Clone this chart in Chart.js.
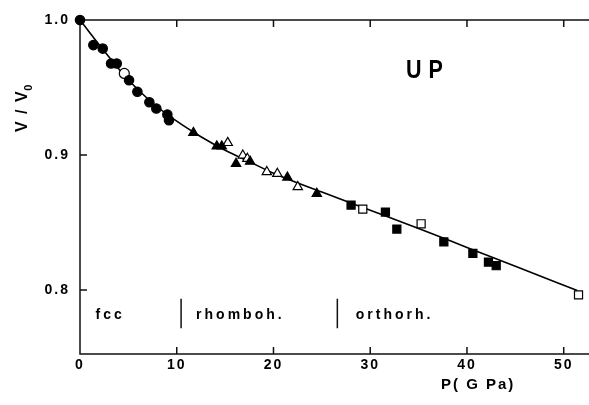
<!DOCTYPE html>
<html>
<head>
<meta charset="UTF-8">
<title>UP  V/V0 vs P</title>
<script src="https://cdn.jsdelivr.net/npm/chart.js"></script>
<style>
  html, body { margin: 0; padding: 0; background: #fff; }
  canvas { display: block; }
</style>
</head>
<body>
<canvas id="chart" width="589" height="405"></canvas>
<script>
// values: P in GPa, V/V0
const fccFilledP = [0, 1.38, 2.35, 3.21, 3.80, 5.07, 5.93, 7.17, 7.89, 9.03, 9.20];
const fccFilledV = [1.0, 0.9814, 0.9788, 0.9678, 0.9678, 0.9554, 0.9468, 0.9391, 0.9344, 0.9300, 0.9257];
const fccOpenP = [4.58];
const fccOpenV = [0.9604];
const rhoFilledP = [11.72, 14.14, 14.65, 16.13, 17.58, 21.44, 24.48];
const rhoFilledV = [0.9164, 0.9064, 0.9064, 0.8936, 0.8951, 0.8834, 0.8713];
const rhoOpenP = [15.27, 16.83, 17.30, 19.31, 20.40, 22.51];
const rhoOpenV = [0.9090, 0.8997, 0.8973, 0.8874, 0.8861, 0.8763];
const ortFilledP = [28.02, 31.57, 32.75, 37.61, 40.61, 42.22, 43.02];
const ortFilledV = [0.8629, 0.8577, 0.8451, 0.8356, 0.8271, 0.8206, 0.8179];
const ortOpenP = [29.23, 35.26, 51.53];
const ortOpenV = [0.8599, 0.8490, 0.7963];

// fitted curve
const fitP = [0, 2.5, 5, 7.5, 10, 12.5, 15, 17.5, 20, 25, 30, 35, 40, 45, 51.4];
const fitV = [1.0, 0.977, 0.9555, 0.9385, 0.925, 0.9135, 0.9035, 0.895, 0.8865, 0.8725, 0.859, 0.8455, 0.8315, 0.8175, 0.7995];

const xTicks = [0, 10, 20, 30, 40, 50];
const yTicks = [0.8, 0.9, 1.0];
const phaseNames = ['fcc', 'rhomboh.', 'orthorh.'];
const phaseBounds = [10.45, 26.6];

const pts = (xs, ys) => xs.map((x, i) => ({ x, y: ys[i] }));
const FONT = '"Liberation Sans", Arial, sans-serif';

function markers(label, xs, ys, style, filled, r) {
  return {
    label, data: pts(xs, ys), showLine: false, clip: false,
    pointStyle: style, pointRadius: r,
    pointBackgroundColor: filled ? '#000' : '#fff',
    pointBorderColor: '#000', pointBorderWidth: 1.2
  };
}

// axes frame, inward ticks and the text inside the plot
const frame = {
  id: 'frame',
  beforeDraw(chart) {
    chart.ctx.letterSpacing = '2px';
  },
  beforeDatasetsDraw(chart) {
    const { ctx, chartArea: a, scales: { x, y } } = chart;
    const W = chart.width;
    ctx.save();
    ctx.strokeStyle = '#111';
    ctx.lineWidth = 1.5;
    ctx.beginPath();
    ctx.moveTo(a.left, a.top); ctx.lineTo(W, a.top);
    ctx.moveTo(a.left, a.top); ctx.lineTo(a.left, a.bottom);
    ctx.lineTo(W, a.bottom);
    xTicks.slice(1).forEach(v => {
      const px = x.getPixelForValue(v);
      ctx.moveTo(px, a.bottom); ctx.lineTo(px, a.bottom - 7);
      ctx.moveTo(px, a.top); ctx.lineTo(px, a.top + 7);
    });
    yTicks.slice(0, -1).forEach(v => {
      const py = y.getPixelForValue(v);
      ctx.moveTo(a.left, py); ctx.lineTo(a.left + 7, py);
    });
    // phase boundaries
    phaseBounds.forEach(v => {
      const px = x.getPixelForValue(v);
      ctx.moveTo(px, y.getPixelForValue(0.7935)); ctx.lineTo(px, y.getPixelForValue(0.7715));
    });
    ctx.stroke();

    ctx.fillStyle = '#000';
    ctx.textBaseline = 'middle';
    ctx.letterSpacing = '3px';
    ctx.font = 'bold 14px ' + FONT;
    ctx.textAlign = 'left';
    const ly = y.getPixelForValue(0.7815);
    ctx.fillText(phaseNames[0], x.getPixelForValue(1.6), ly);
    ctx.fillText(phaseNames[1], x.getPixelForValue(12.0), ly);
    ctx.fillText(phaseNames[2], x.getPixelForValue(28.5), ly);

    // x title, sitting right of centre as in the figure
    ctx.letterSpacing = '2px';
    ctx.font = 'bold 15px ' + FONT;
    ctx.fillText('P( G Pa)', 441, 385);

    // compound label
    ctx.letterSpacing = '8px';
    ctx.font = 'bold 25px ' + FONT;
    ctx.save();
    ctx.translate(x.getPixelForValue(33.7), y.getPixelForValue(0.962));
    ctx.scale(0.86, 1);
    ctx.fillText('UP', 0, 0);
    ctx.restore();

    // y title with subscript
    ctx.letterSpacing = '1.5px';
    ctx.save();
    ctx.translate(23, 132);
    ctx.rotate(-Math.PI / 2);
    ctx.font = 'bold 16px ' + FONT;
    ctx.fillText('V / V', 0, 0);
    const w = ctx.measureText('V / V').width;
    ctx.font = 'bold 11px ' + FONT;
    ctx.fillText('0', w - 1, 6);
    ctx.restore();
    ctx.restore();
  }
};

new Chart(document.getElementById('chart'), {
  type: 'scatter',
  data: {
    datasets: [
      markers('fcc', fccFilledP, fccFilledV, 'circle', true, 4.7),
      markers('fcc open', fccOpenP, fccOpenV, 'circle', false, 5),
      markers('rhomb', rhoFilledP, rhoFilledV, 'triangle', true, 5.4),
      markers('rhomb open', rhoOpenP, rhoOpenV, 'triangle', false, 5.4),
      markers('ortho', ortFilledP, ortFilledV, 'rect', true, 5.7),
      markers('ortho open', ortOpenP, ortOpenV, 'rect', false, 5.7),
      {
        label: 'fit', data: pts(fitP, fitV), showLine: true,
        borderColor: '#000', borderWidth: 1.6, pointRadius: 0,
        cubicInterpolationMode: 'monotone', fill: false
      }
    ]
  },
  options: {
    responsive: false,
    animation: false,
    layout: { padding: { top: 20, right: 0, left: 0, bottom: 0 } },
    plugins: { legend: { display: false }, tooltip: { enabled: false } },
    scales: {
      x: {
        type: 'linear', min: 0, max: 51.9,
        grid: { display: false, drawTicks: false }, border: { display: false },
        afterBuildTicks: s => { s.ticks = xTicks.map(v => ({ value: v })); },
        afterFit: s => { s.height = 51; },
        ticks: { color: '#000', padding: 3, font: { family: FONT, size: 14, weight: 'bold' } }
      },
      y: {
        type: 'linear', min: 0.7525, max: 1.0,
        grid: { display: false, drawTicks: false }, border: { display: false },
        afterBuildTicks: s => { s.ticks = yTicks.map(v => ({ value: v })); },
        afterFit: s => { s.width = 80; },
        ticks: {
          color: '#000', padding: 10,
          font: { family: FONT, size: 14, weight: 'bold' },
          callback: v => v.toFixed(1)
        }
      }
    }
  },
  plugins: [frame]
});
</script>
</body>
</html>
